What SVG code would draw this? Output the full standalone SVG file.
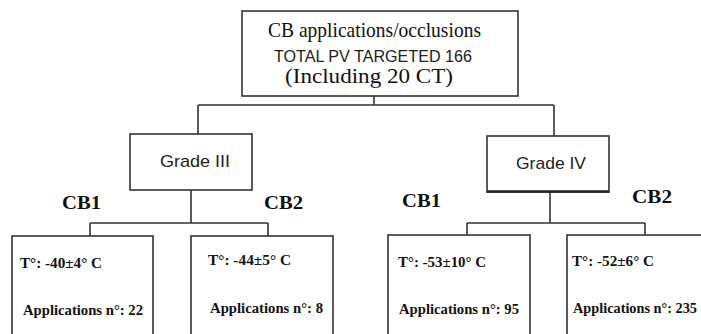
<svg xmlns="http://www.w3.org/2000/svg" width="701" height="334" viewBox="0 0 701 334">
<style>
.box{fill:#fff;stroke:#333;stroke-width:1.6}
.ln{fill:none;stroke:#333;stroke-width:1.6}
.serif{font-family:"Liberation Serif","Times New Roman",serif;fill:#111}
.sans{font-family:"Liberation Sans",Arial,sans-serif;fill:#222}
.lab{font-family:"Liberation Serif","Times New Roman",serif;font-weight:bold;font-size:18px;fill:#111}
.val{font-family:"Liberation Serif","Times New Roman",serif;font-weight:bold;font-size:15px;fill:#111}
</style>
<rect width="701" height="334" fill="#fff"/>
<g id="connectors">
<path class="ln" d="M374,96 V105 M198,105 H554 M198,105 V134 M554,105 V136"/>
<path class="ln" d="M191,190 V223 M90,223 H268 M90,223 V236 M268,223 V236"/>
<path class="ln" d="M550,192 V223 M467,223 H645 M467,223 V235 M645,223 V235"/>
</g>
<g id="root">
<rect class="box" x="242" y="11" width="276" height="85"/>
<text class="serif" x="268" y="37" font-size="21" textLength="213" lengthAdjust="spacingAndGlyphs">CB applications/occlusions</text>
<text class="sans" x="274" y="62" font-size="16" textLength="198" lengthAdjust="spacingAndGlyphs">TOTAL PV TARGETED 166</text>
<text class="serif" x="285" y="83" font-size="21" textLength="168" lengthAdjust="spacingAndGlyphs">(Including 20 CT)</text>
</g>
<g id="grade3">
<rect class="box" x="130" y="134" width="122" height="56"/>
<text class="sans" x="160" y="167" font-size="17" textLength="70" lengthAdjust="spacingAndGlyphs">Grade  III</text>
</g>
<g id="grade4">
<rect class="box" x="487" y="136" width="122" height="56"/>
<line x1="487" y1="191.5" x2="609" y2="191.5" stroke="#222" stroke-width="2.5"/>
<text class="sans" x="516" y="169" font-size="17" textLength="70" lengthAdjust="spacingAndGlyphs">Grade IV</text>
</g>
<g id="labels">
<text class="lab" x="62" y="209" textLength="39" lengthAdjust="spacingAndGlyphs">CB1</text>
<text class="lab" x="264" y="209" textLength="39" lengthAdjust="spacingAndGlyphs">CB2</text>
<text class="lab" x="402" y="207" textLength="39" lengthAdjust="spacingAndGlyphs">CB1</text>
<text class="lab" x="632" y="203" textLength="40" lengthAdjust="spacingAndGlyphs">CB2</text>
</g>
<g id="g3cb1">
<rect class="box" x="12" y="236" width="141" height="110"/>
<text class="val" x="20" y="268" textLength="82" lengthAdjust="spacingAndGlyphs">T°: -40±4° C</text>
<text class="val" x="23" y="315" textLength="120" lengthAdjust="spacingAndGlyphs">Applications n°: 22</text>
</g>
<g id="g3cb2">
<rect class="box" x="191" y="236" width="142" height="110"/>
<text class="val" x="208" y="265" textLength="83" lengthAdjust="spacingAndGlyphs">T°: -44±5° C</text>
<text class="val" x="210" y="313" textLength="113" lengthAdjust="spacingAndGlyphs">Applications n°: 8</text>
</g>
<g id="g4cb1">
<rect class="box" x="388" y="235" width="142" height="110"/>
<text class="val" x="398" y="267" textLength="88" lengthAdjust="spacingAndGlyphs">T°: -53±10° C</text>
<text class="val" x="399" y="314" textLength="120" lengthAdjust="spacingAndGlyphs">Applications n°: 95</text>
</g>
<g id="g4cb2">
<rect class="box" x="567" y="235" width="150" height="110"/>
<text class="val" x="572" y="266" textLength="82" lengthAdjust="spacingAndGlyphs">T°: -52±6° C</text>
<text class="val" x="573" y="313" textLength="124" lengthAdjust="spacingAndGlyphs">Applications n°: 235</text>
</g>
</svg>
